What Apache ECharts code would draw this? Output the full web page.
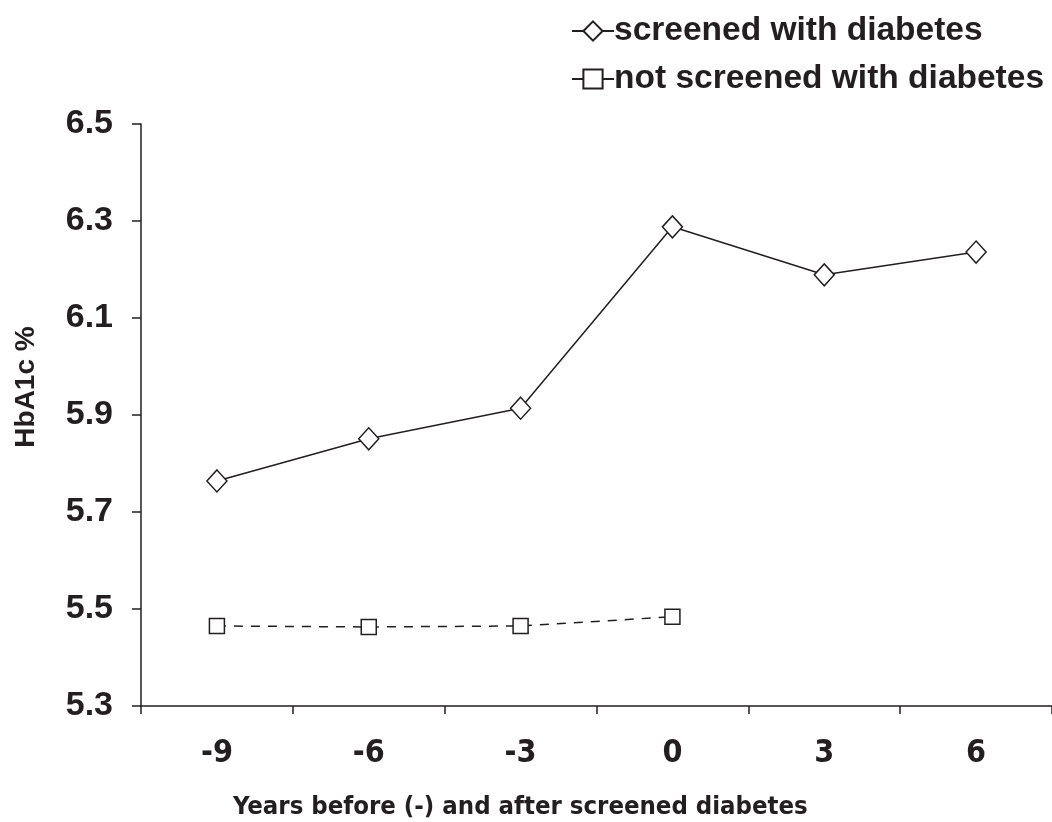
<!DOCTYPE html>
<html>
<head>
<meta charset="utf-8">
<script src="https://cdn.jsdelivr.net/npm/echarts@6/dist/echarts.min.js"></script>
<style>
html,body{margin:0;padding:0;background:#fff;}
#chart{width:1052px;height:822px;}
</style>
</head>
<body>
<div id="chart"></div>
<script>
const categories = ['-9', '-6', '-3', '0', '3', '6'];
const screened = [5.764, 5.851, 5.914, 6.288, 6.189, 6.236];
const notScreened = [5.465, 5.463, 5.465, 5.484, null, null];
const seriesNames = ['screened with diabetes', 'not screened with diabetes'];
const yAxisName = 'HbA1c %';
const xAxisName = 'Years before (-) and after screened diabetes';

const chart = echarts.init(document.getElementById('chart'));
const ink = '#231f20';
chart.setOption({
  animation: false,
  backgroundColor: '#fff',
  title: {
    text: xAxisName,
    left: 228,
    top: 789,
    textStyle: { fontFamily: '"DejaVu Sans Condensed", sans-serif', fontWeight: 'bold', fontSize: 25.5, color: ink }
  },
  legend: {
    orient: 'vertical',
    left: 566,
    top: 9,
    padding: [5, 5, 5, 5],
    itemWidth: 42,
    itemHeight: 24,
    itemGap: 14,
    data: seriesNames,
    lineStyle: { type: 'solid' },
    textStyle: { fontFamily: '"Liberation Sans", Arial, sans-serif', fontWeight: 'bold', fontSize: 33.5, color: ink, padding: [0, 0, 0, -5] }
  },
  grid: { left: 141, right: 0, top: 124, bottom: 116, containLabel: false },
  xAxis: {
    type: 'category',
    data: categories,
    boundaryGap: true,
    axisLine: { lineStyle: { color: ink, width: 1.5 } },
    axisTick: { show: true, length: 8, lineStyle: { color: ink, width: 1.5 }, alignWithLabel: false },
    axisLabel: { margin: 32, fontFamily: '"DejaVu Sans Condensed", sans-serif', fontWeight: 'bold', fontSize: 32, color: ink },
    splitLine: { show: false }
  },
  yAxis: {
    type: 'value',
    min: 5.3,
    max: 6.5,
    interval: 0.2,
    name: yAxisName,
    nameLocation: 'middle',
    nameGap: 101,
    nameTextStyle: { fontFamily: '"Liberation Sans", Arial, sans-serif', fontWeight: 'bold', fontSize: 28, color: ink, padding: [0, 0, 0, 56] },
    axisLine: { show: true, lineStyle: { color: ink, width: 1.5 } },
    axisTick: { show: true, length: 9, lineStyle: { color: ink, width: 1.5 } },
    axisLabel: {
      margin: 28,
      fontFamily: '"Liberation Sans", Arial, sans-serif', fontWeight: 'bold', fontSize: 34, color: ink,
      formatter: v => v.toFixed(1)
    },
    splitLine: { show: false }
  },
  series: [
    {
      name: seriesNames[0],
      type: 'line',
      data: screened,
      symbol: 'diamond',
      symbolSize: [20, 22],
      showAllSymbol: true,
      itemStyle: { color: '#fff', borderColor: ink, borderWidth: 1.5 },
      lineStyle: { color: ink, width: 1.5 }
    },
    {
      name: seriesNames[1],
      type: 'line',
      data: notScreened,
      symbol: 'rect',
      symbolSize: 15,
      showAllSymbol: true,
      itemStyle: { color: '#fff', borderColor: ink, borderWidth: 1.5 },
      lineStyle: { color: ink, width: 1.5, type: [9, 8] }
    }
  ]
});
</script>
</body>
</html>
